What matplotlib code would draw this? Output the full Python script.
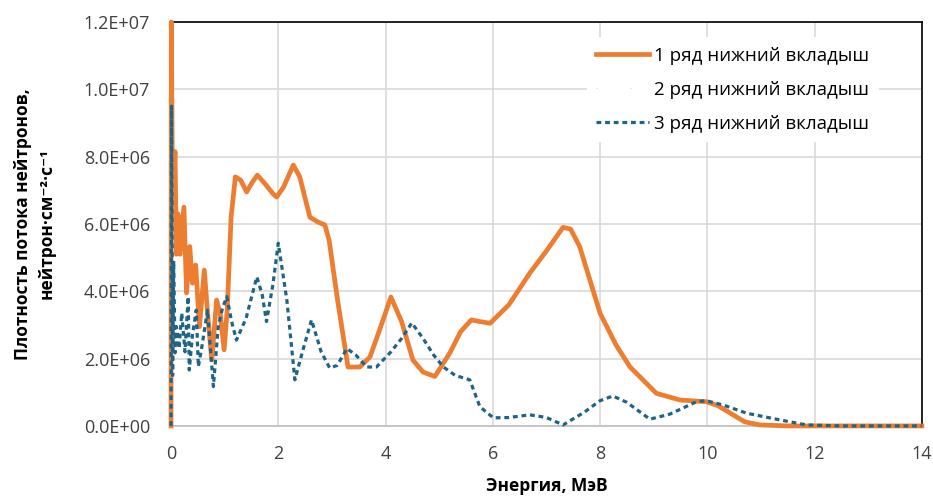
import matplotlib
matplotlib.use('Agg')
import matplotlib.pyplot as plt
from matplotlib.ticker import FuncFormatter


### Data (energy, MeV ; flux, 1e6 n/cm2/s)

row1_energy = [0, 0.005, 0.03, 0.075, 0.10, 0.13, 0.17, 0.24, 0.29, 0.35, 0.40, 0.46,
               0.53, 0.62, 0.69, 0.76, 0.85, 0.92, 0.99, 1.05, 1.12, 1.2, 1.3, 1.41,
               1.5, 1.61, 1.75, 1.9, 1.97, 2.1, 2.28, 2.4, 2.59, 2.75, 2.87, 2.95,
               3.1, 3.3, 3.52, 3.71, 3.9, 4.1, 4.3, 4.51, 4.7, 4.92, 5.2, 5.4, 5.6,
               5.76, 5.95, 6.3, 6.69, 7.0, 7.31, 7.45, 7.62, 8.0, 8.3, 8.56, 9.05,
               9.49, 9.98, 10.2, 10.48, 10.7, 10.98, 11.5, 12, 13, 14]
row1_flux = [0, 12.0, 6.5, 8.15, 5.1, 6.3, 5.1, 6.5, 3.95, 5.33, 4.24, 4.78,
             2.95, 4.63, 3.2, 1.96, 3.74, 3.3, 2.26, 3.5, 6.2, 7.4, 7.3, 6.95,
             7.2, 7.45, 7.2, 6.9, 6.8, 7.1, 7.75, 7.4, 6.2, 6.05, 5.97, 5.5,
             3.8, 1.75, 1.75, 2.05, 2.9, 3.83, 3.1, 1.96, 1.6, 1.47, 2.17, 2.8, 3.15,
             3.1, 3.05, 3.6, 4.54, 5.2, 5.9, 5.85, 5.33, 3.35, 2.4, 1.75, 0.97,
             0.77, 0.72, 0.6, 0.33, 0.12, 0.03, 0, 0, 0, 0]

row3_energy = [0, 0.01, 0.03, 0.05, 0.075, 0.1, 0.15, 0.2, 0.26, 0.32, 0.34, 0.4,
               0.47, 0.51, 0.58, 0.68, 0.79, 0.88, 0.96, 1.04, 1.13, 1.22, 1.4, 1.6,
               1.7, 1.78, 1.9, 2.0, 2.16, 2.31, 2.45, 2.62, 2.8, 2.96, 3.1, 3.28,
               3.45, 3.65, 3.83, 4.1, 4.3, 4.49, 4.7, 4.9, 5.08, 5.3, 5.57, 5.76,
               6.01, 6.3, 6.69, 7.0, 7.31, 7.7, 8.0, 8.24, 8.5, 8.93, 9.3, 9.8,
               9.98, 10.3, 10.73, 11.35, 11.85, 12.5, 13, 14]
row3_flux = [0, 9.5, 1.5, 4.9, 2.17, 2.95, 2.3, 3.35, 2.2, 3.84, 1.66, 2.7,
             3.44, 1.76, 2.4, 3.44, 1.17, 2.95, 3.5, 3.84, 3.1, 2.55, 3.2, 4.43,
             3.9, 3.1, 4.2, 5.43, 3.74, 1.37, 2.2, 3.15, 2.2, 1.72, 1.8, 2.3,
             2.1, 1.75, 1.75, 2.2, 2.6, 3.06, 2.6, 2.1, 1.75, 1.5, 1.37, 0.57,
             0.24, 0.25, 0.33, 0.25, 0.03, 0.4, 0.75, 0.89, 0.7, 0.2, 0.35, 0.72,
             0.75, 0.62, 0.38, 0.18, 0.03, 0, 0, 0]

series_labels = ['1 ряд нижний вкладыш', '2 ряд нижний вкладыш', '3 ряд нижний вкладыш']
x_ticks = [0, 2, 4, 6, 8, 10, 12, 14]
y_ticks = [0, 2e6, 4e6, 6e6, 8e6, 1e7, 1.2e7]


### Plot

plt.rcParams['font.family'] = ['Open Sans', 'DejaVu Sans']

fig = plt.figure(figsize=(9.33, 4.97), dpi=100)
ax = fig.add_axes([0.1833, 0.143, 0.8047, 0.8127])

ax.plot(row1_energy, [v * 1e6 for v in row1_flux], color='#ED7D31', lw=3.4,
        label=series_labels[0], zorder=3, clip_on=False)
# second series is practically invisible in the original
ax.plot([], [], color='#A9D18E', lw=0.6, ls=(0, (1, 40)), label=series_labels[1])
ax.plot(row3_energy, [v * 1e6 for v in row3_flux], color='#1F6487', lw=2.3,
        ls=(0, (1.5, 1.2)), label=series_labels[2], zorder=4, clip_on=False)

ax.set_xlim(0, 14)
ax.set_ylim(0, 1.2e7)
ax.set_xticks(x_ticks)
ax.set_yticks(y_ticks)
ax.yaxis.set_major_formatter(FuncFormatter(lambda v, p: '%.1E' % v))
ax.tick_params(length=0, labelsize=13, labelcolor='#404040')
ax.tick_params(axis='x', pad=14)
ax.tick_params(axis='y', pad=15)
ax.grid(True, color='#d9d9d9', lw=1.2)
ax.set_axisbelow(True)

for s in ['top', 'right', 'left']:
    ax.spines[s].set_color('black')
    ax.spines[s].set_linewidth(1.2)
ax.spines['bottom'].set_color('#bfbfbf')
ax.spines['bottom'].set_linewidth(1.2)

ax.set_xlabel('Энергия, МэВ', fontsize=12.5, fontweight='bold', labelpad=10)
ax.set_ylabel('Плотность потока нейтронов,\nнейтрон·см⁻²·с⁻¹', fontsize=12.5,
              fontweight='bold', labelpad=20, linespacing=1.4)

leg = ax.legend(loc='upper right', bbox_to_anchor=(0.955, 0.985), fontsize=13.5,
                frameon=True, facecolor='white', edgecolor='none', framealpha=1,
                fancybox=False, handlelength=2.8, handletextpad=0.3,
                labelspacing=0.85, borderpad=0.5)
leg.set_zorder(5)

plt.savefig('out.png', dpi=100)
plt.close(fig)
